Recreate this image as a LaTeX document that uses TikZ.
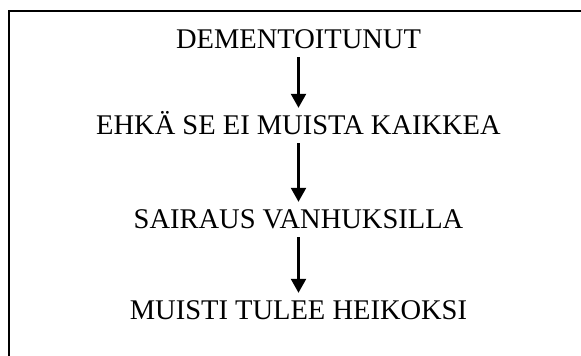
\documentclass[tikz,border=0pt]{standalone}
\usepackage{fontspec}
\setmainfont{Liberation Serif}
\usetikzlibrary{arrows.meta}
\begin{document}
\begin{tikzpicture}[x=1pt,y=1pt,
  label text/.style={inner sep=0pt, anchor=base, text height=19pt, text depth=0pt,
    font=\fontsize{28.5}{32}\selectfont},
  flow arrow/.style={line width=2.4pt, -{Triangle[length=14pt,width=15pt]},
    shorten <=8pt, shorten >=8pt}]
  \useasboundingbox (0,0) rectangle (581,356);
  % frame (top and left edges)
  \draw[line width=2.7pt] (9,0) -- (9,345) -- (581,345);
  % chain of statements
  \node[label text] (t1) at (298.5,307) {DEMENTOITUNUT};
  \node[label text] (t2) at (298.5,221) {EHKÄ SE EI MUISTA KAIKKEA};
  \node[label text] (t3) at (298.5,127) {SAIRAUS VANHUKSILLA};
  \node[label text] (t4) at (298.5,36) {MUISTI TULEE HEIKOKSI};
  \draw[flow arrow] (t1.south) -- (t2.north);
  \draw[flow arrow] (t2.south) -- (t3.north);
  \draw[flow arrow] (t3.south) -- (t4.north);
\end{tikzpicture}
\end{document}
